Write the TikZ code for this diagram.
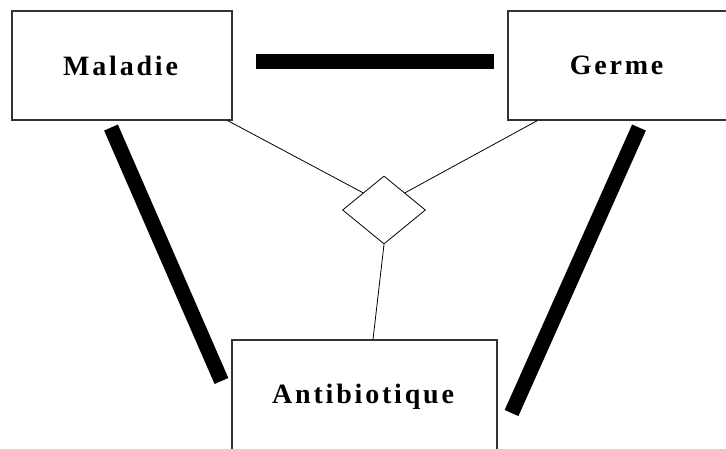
\documentclass[tikz,border=0pt]{standalone}
\usepackage{fontspec}
\setmainfont{Liberation Serif}
\usepackage{tikz}
\usetikzlibrary{shapes.geometric}
\newcommand\ent[1]{\fontsize{28}{30}\selectfont\addfontfeature{LetterSpace=10}\textbf{#1}}

\begin{document}
\begin{tikzpicture} [x=1pt, y=-1pt, line join=miter,
  box/.style = {draw=black!80, line width=1.1pt, rectangle, inner sep=0pt, minimum height=109pt},
  lien/.style = {line width=0.8pt},
  gros/.style = {line width=15pt, line cap=butt}]
\useasboundingbox (0,0) rectangle (726,449);
\clip (0,0) rectangle (726,449);
\node[box, minimum width=220pt](mal) at (122,65.5){\ent{Maladie}};
\node[box, minimum width=220pt](ger) at (618,65.5){\ent{Germe}};
\node[box, minimum width=265pt, minimum height=114pt](ant) at (364.5,397){\raisebox{2.5pt}{\ent{Antibiotique}}};
\node[draw, diamond, line width=0.8pt, inner sep=0pt, minimum width=83pt, minimum height=68pt](rel) at (384,210){};
\draw [lien]([xshift=-5pt]mal.south east) -- (rel.north west);
\draw [lien]([xshift=30pt]ger.south west) -- (rel.north east);
\draw [lien](rel.south) -- ([xshift=8.5pt]ant.north);
\draw [gros]([xshift=23pt, yshift=3.5pt]mal.east) -- ([xshift=-13pt, yshift=3.5pt]ger.west);
\draw [gros]([xshift=-11pt, yshift=-7pt]mal.south) -- ([xshift=-10pt, yshift=16pt]ant.west);
\draw [gros]([xshift=21pt, yshift=-7pt]ger.south) -- ([xshift=14pt, yshift=-16pt]ant.east);
\end{tikzpicture}
\end{document}
